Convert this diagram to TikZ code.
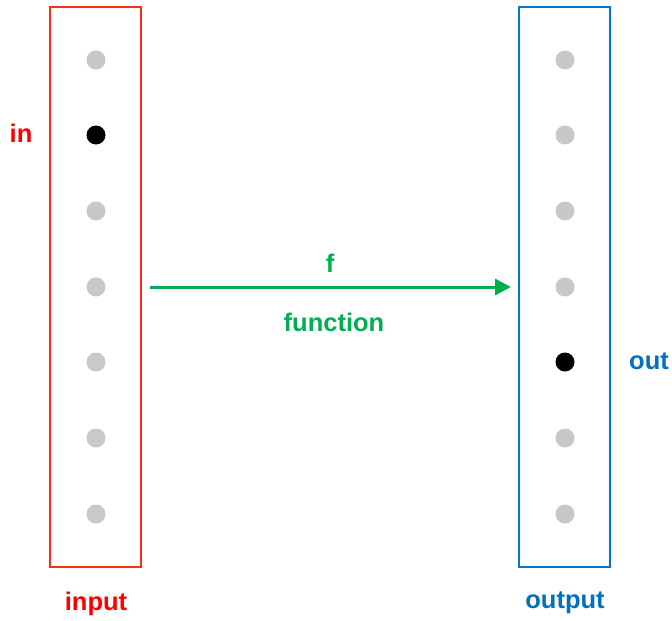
\documentclass[tikz,border=0pt]{standalone}
\usepackage{fontspec}
\setmainfont{Liberation Sans}
\usetikzlibrary{arrows.meta}
\definecolor{inred}{RGB}{255,45,20}
\definecolor{txtred}{RGB}{255,0,0}
\definecolor{outblue}{RGB}{0,120,200}
\definecolor{txtblue}{RGB}{0,112,192}
\definecolor{fgreen}{RGB}{0,176,80}
\definecolor{dotgray}{RGB}{200,200,200}
\tikzset{
  box/.style={draw, line width=2pt, minimum width=91pt, minimum height=560pt, inner sep=0pt},
  dotg/.style={circle, fill=dotgray, minimum size=19pt, inner sep=0pt},
  dotb/.style={circle, fill=black, minimum size=19pt, inner sep=0pt},
  lbl/.style={font=\fontsize{25.5}{28}\selectfont\bfseries, inner sep=0pt, anchor=center}
}
\begin{document}
\begin{tikzpicture}[x=1pt,y=-1pt]
\useasboundingbox (0,0) rectangle (672,621);
\node[box, draw=inred] (inbox) at (95.5,287) {};
\node[box, draw=outblue] (outbox) at (564.5,287) {};
\foreach \i/\y in {1/60,2/135,3/211,4/287,5/362,6/438,7/514} {
  \ifnum\i=2 \node[dotb] (a\i) at (96,\y) {}; \else \node[dotg] (a\i) at (96,\y) {}; \fi
  \ifnum\i=5 \node[dotb] (b\i) at (565,\y) {}; \else \node[dotg] (b\i) at (565,\y) {}; \fi
}
\draw[fgreen, line width=3pt, -{Triangle[length=16pt,width=16pt]}, shorten <=8pt, shorten >=7pt] (inbox.east) -- (outbox.west);
\node[lbl, text=fgreen] (f) at (330,263) {f};
\node[lbl, text=fgreen] (fn) at (334,322) {function};
\node[lbl, text=txtred] (in) at (21,133) {in};
\node[lbl, text=txtblue] (out) at (649,361) {out};
\node[lbl, text=txtred] (input) at (96,604) {input};
\node[lbl, text=txtblue] (output) at (565,603) {output};
\end{tikzpicture}
\end{document}
